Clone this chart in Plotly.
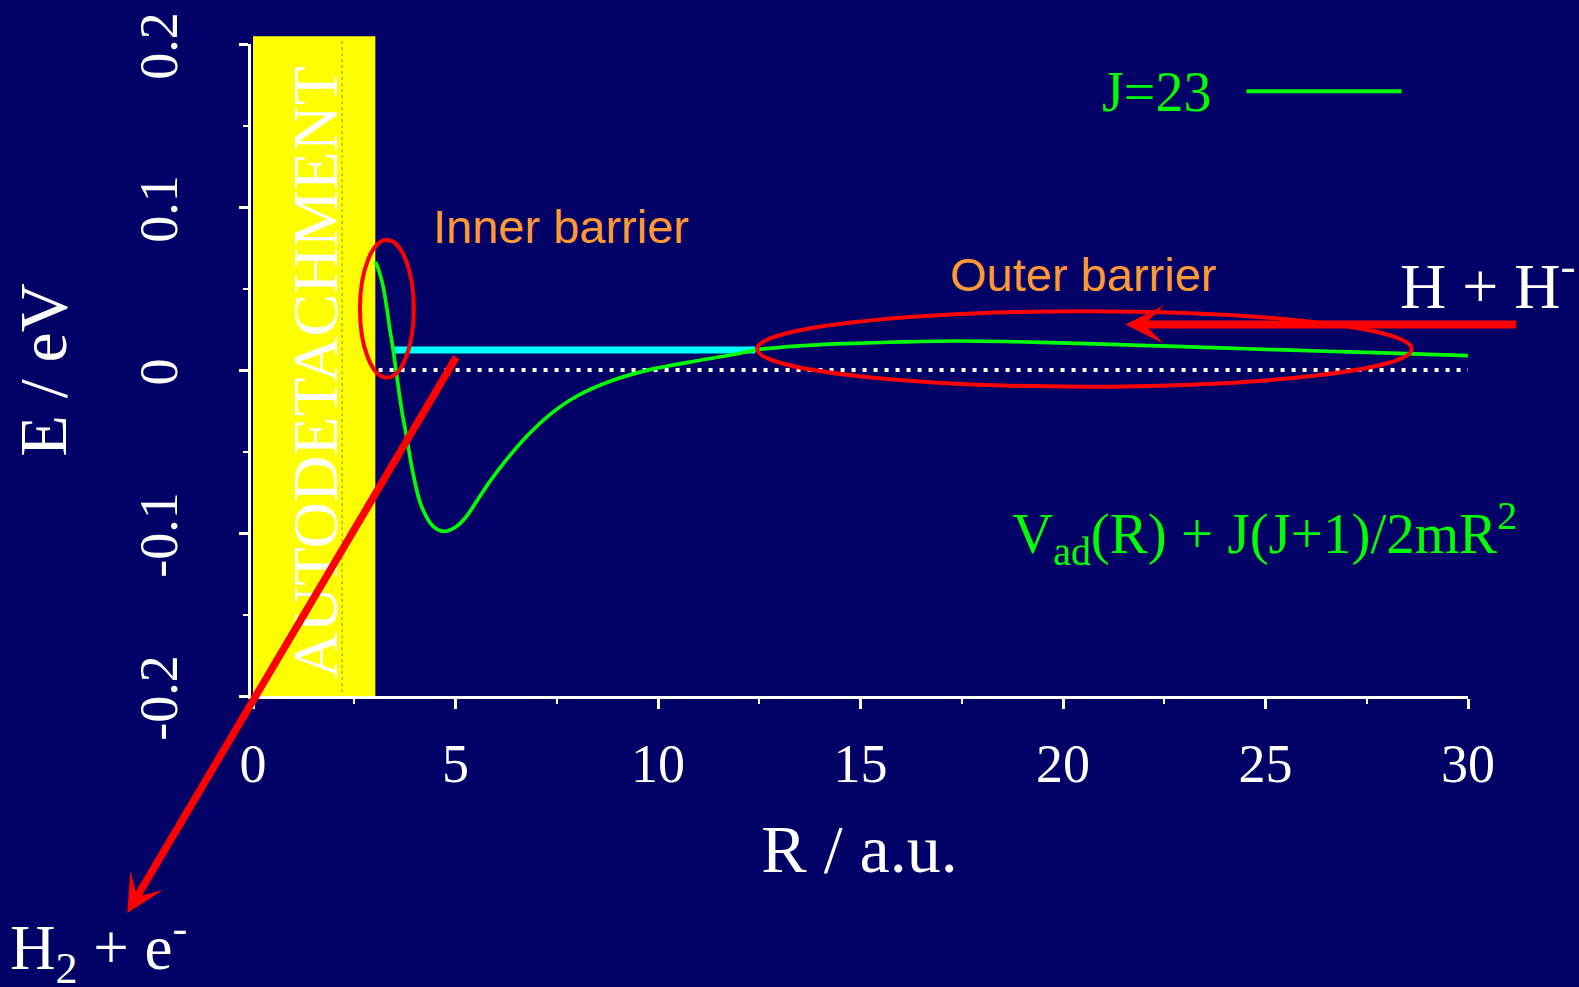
import plotly.graph_objects as go

# ---------------- data ----------------
R_curve = [3.03, 3.12, 3.21, 3.30, 3.38, 3.46, 3.54, 3.67, 3.79, 3.95, 4.16, 4.45, 4.74,
           5.03, 5.27, 5.52, 5.85, 6.26, 6.76, 7.33, 7.99, 8.82, 9.80, 11.04, 11.86, 12.48,
           13.5, 14.67, 16.0, 17.3, 18.6, 19.9, 21.2, 22.6, 23.9, 25.2, 26.5, 27.9, 29.0, 30.0]
E_curve = [0.0663, 0.0600, 0.0514, 0.0385, 0.0248, 0.0125, -0.0018, -0.0243, -0.0407,
           -0.0632, -0.0836, -0.0959, -0.0990, -0.0959, -0.0898, -0.0806, -0.0683, -0.0550,
           -0.0407, -0.0274, -0.0161, -0.0069, 0.0002, 0.0060, 0.0095, 0.0125,
           0.0148, 0.0162, 0.0172, 0.0178, 0.0175, 0.0166, 0.0157, 0.0146, 0.0136, 0.0125,
           0.0115, 0.0105, 0.0096, 0.0088]

R_zero = [3.1, 30.0]
E_zero = [0.0, 0.0]

R_level = [3.46, 12.4]
E_level = [0.0123, 0.0123]

x_tickvals = [0, 5, 10, 15, 20, 25, 30]
x_ticktext = ["0", "5", "10", "15", "20", "25", "30"]
y_tickvals = [-0.2, -0.1, 0.0, 0.1, 0.2]
y_ticktext = ["-0.2", "-0.1", "0", "0.1", "0.2"]

# ---------------- styles ----------------
BG = "#000066"
GREEN = "#00FF00"
RED = "#FF0000"
ORANGE = "#FF9933"
SERIF = "Liberation Serif, Times New Roman, serif"
SANS = "Liberation Sans, Arial, sans-serif"

fig = go.Figure()

fig.add_trace(go.Scatter(x=R_zero, y=E_zero, mode="lines",
                         line=dict(color="white", width=4, dash="4px,7px"),
                         hoverinfo="skip"))
fig.add_trace(go.Scatter(x=R_level, y=E_level, mode="lines",
                         line=dict(color="#00FFFF", width=7), hoverinfo="skip"))
fig.add_trace(go.Scatter(x=R_curve, y=E_curve, mode="lines",
                         line=dict(color=GREEN, width=3.7, shape="spline", smoothing=1.0),
                         name="J=23"))

shapes = [
    # autodetachment region
    dict(type="rect", xref="x", yref="paper", x0=0, x1=3.02, y0=0, y1=1.012,
         fillcolor="#FFFF00", line=dict(width=0), layer="below"),
    dict(type="line", xref="x", yref="paper", x0=2.2, x1=2.2, y0=0.006, y1=1.006,
         line=dict(color="#8a8a60", width=1, dash="dot"), layer="below"),
    # inner barrier ellipse
    dict(type="circle", xref="x", yref="y", x0=2.64, x1=3.97, y0=-0.0047, y1=0.0797,
         line=dict(color=RED, width=4)),
    # outer barrier ellipse
    dict(type="circle", xref="x", yref="y", x0=12.45, x1=28.61, y0=-0.0102, y1=0.0361,
         line=dict(color=RED, width=4)),
    # legend sample line
    dict(type="line", xref="x", yref="y", x0=24.53, x1=28.36, y0=0.171, y1=0.171,
         line=dict(color=GREEN, width=4)),
]

annotations = [
    dict(text="AUTODETACHMENT", x=1.54, y=-0.0013, xref="x", yref="y", showarrow=False,
         textangle=-90, font=dict(family=SERIF, size=64, color="white")),
    dict(text="Inner barrier", x=7.6, y=0.088, xref="x", yref="y", showarrow=False,
         font=dict(family=SANS, size=47, color=ORANGE)),
    dict(text="Outer barrier", x=20.49, y=0.0587, xref="x", yref="y", showarrow=False,
         font=dict(family=SANS, size=47, color=ORANGE)),
    dict(text="J=23", x=22.30, y=0.1707, xref="x", yref="y", showarrow=False,
         font=dict(family=SERIF, size=56, color=GREEN)),
    dict(text="V<sub>ad</sub>(R) + J(J+1)/2mR<sup>2</sup>", x=18.70, y=-0.1003,
         xref="x", yref="y", xanchor="left", yanchor="middle", showarrow=False,
         font=dict(family=SERIF, size=57, color=GREEN)),
    dict(text="H + H<sup>-</sup>", x=1.0164, y=0.635, xref="paper", yref="paper",
         xanchor="center", yanchor="middle",
         showarrow=False, font=dict(family=SERIF, size=64, color="white")),
    dict(text="H<sub>2</sub> + e<sup>-</sup>", x=-0.1249, y=-0.388, xref="paper",
         yref="paper", xanchor="center", yanchor="middle",
         showarrow=False, font=dict(family=SERIF, size=63, color="white")),
    # arrows
    dict(text="", x=21.54, y=0.0279, ax=31.23, ay=0.0279, xref="x", yref="y",
         axref="x", ayref="y", showarrow=True, arrowhead=3, arrowsize=0.8,
         arrowwidth=8, arrowcolor=RED),
    dict(text="", x=-3.104, y=-0.3332, ax=5.04, ay=0.0088, xref="x", yref="y",
         axref="x", ayref="y", showarrow=True, arrowhead=3, arrowsize=0.85,
         arrowwidth=7.5, arrowcolor=RED),
]

fig.update_layout(
    width=1579, height=987, autosize=False,
    paper_bgcolor=BG, plot_bgcolor=BG,
    margin=dict(l=251, r=111, t=44, b=291, autoexpand=False),
    showlegend=False,
    shapes=shapes, annotations=annotations,
    xaxis=dict(range=[-0.05, 30.0], tickvals=x_tickvals, ticktext=x_ticktext,
               automargin=False,
               showgrid=False, zeroline=False, showline=True, linecolor="white",
               linewidth=2.5, ticks="outside", ticklen=10, tickwidth=2.5,
               tickcolor="white", ticklabelstandoff=8,
               minor=dict(dtick=2.5, tick0=0, ticks="outside", ticklen=5,
                          tickwidth=2, tickcolor="white"),
               tickfont=dict(family=SERIF, size=54, color="white"),
               title=dict(text="R / a.u.", font=dict(family=SERIF, size=68, color="white"),
                          standoff=32)),
    yaxis=dict(range=[-0.2, 0.2], tickvals=y_tickvals, ticktext=y_ticktext,
               automargin=False,
               showgrid=False, zeroline=False, showline=True, linecolor="white",
               linewidth=2.5, ticks="outside", ticklen=9, tickwidth=2.5,
               tickcolor="white", tickangle=-90, ticklabelstandoff=41,
               ticklabelshift=10,
               minor=dict(dtick=0.05, tick0=0, ticks="outside", ticklen=5,
                          tickwidth=2, tickcolor="white"),
               tickfont=dict(family=SERIF, size=54, color="white"),
               title=dict(text="E / eV", font=dict(family=SERIF, size=68, color="white"),
                          standoff=40)),
)

fig.write_html("out.html", config={"displayModeBar": False},
               post_script="document.body.style.margin='0';document.body.style.overflow='hidden';")
